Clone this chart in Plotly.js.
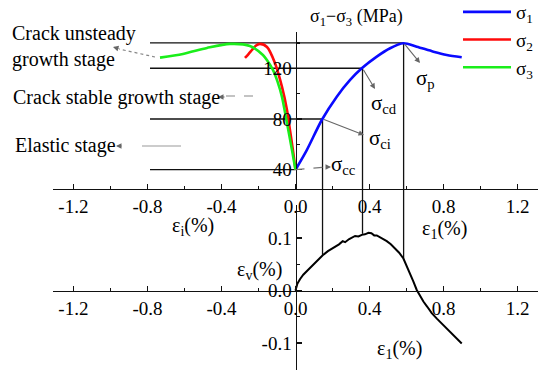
<!DOCTYPE html>
<html><head><meta charset="utf-8">
<script src="https://cdn.plot.ly/plotly-3.0.1.min.js"></script>
<style>html,body{margin:0;padding:0;background:#fff}</style>
</head><body><div id="chart" style="width:550px;height:377px"></div>
<script>
// ---- data ----
const s1Strain = [0, 0.061, 0.142, 0.223, 0.295, 0.358, 0.439, 0.511, 0.583, 0.655, 0.745, 0.817, 0.898];
const s1Stress = [40, 55.5, 79.2, 97.6, 110.8, 120, 129.2, 135.8, 139.7, 137.0, 133.1, 130.5, 128.7];
const s2Strain = [0, -0.014, -0.030, -0.046, -0.073, -0.111, -0.154, -0.192, -0.215, -0.235, -0.255, -0.273];
const s2Stress = [40, 55.5, 71.3, 87.1, 105.3, 124.2, 136.8, 139.2, 137.8, 134.4, 131.0, 128.1];
const s3Strain = [0, -0.019, -0.046, -0.073, -0.097, -0.122, -0.150, -0.176, -0.246, -0.354, -0.478, -0.608, -0.732];
const s3Stress = [40, 55.5, 76.8, 97.4, 109.5, 118.7, 125.5, 130.5, 137.6, 139.2, 136.0, 131.3, 128.4];
const evStrain = [0, 0.010, 0.025, 0.042, 0.070, 0.096, 0.120, 0.147, 0.175, 0.204, 0.235, 0.255, 0.268, 0.290, 0.310, 0.322, 0.340, 0.358, 0.375, 0.394, 0.410, 0.425, 0.439, 0.465, 0.493, 0.515, 0.538, 0.560, 0.583, 0.600, 0.619, 0.637, 0.655, 0.672, 0.691, 0.712, 0.736, 0.765, 0.799, 0.825, 0.853, 0.875, 0.898];
const evValue  = [0, 0.013, 0.022, 0.030, 0.040, 0.049, 0.058, 0.067, 0.075, 0.081, 0.088, 0.094, 0.092, 0.098, 0.102, 0.104, 0.103, 0.106, 0.107, 0.110, 0.109, 0.105, 0.105, 0.100, 0.094, 0.088, 0.080, 0.072, 0.061, 0.048, 0.033, 0.017, 0.001, -0.010, -0.021, -0.031, -0.043, -0.054, -0.066, -0.075, -0.085, -0.092, -0.101];
// characteristic stress points: cc, ci, cd, p
const stageStrain = [0, 0.146, 0.362, 0.584];
const stageStress = [40, 80, 120, 140];
const stageEv = [0, 0.068, 0.108, 0.061];
const stageLabels = ['σ<sub>cc</sub>', 'σ<sub>ci</sub>', 'σ<sub>cd</sub>', 'σ<sub>p</sub>'];
const seriesNames = ['σ<sub>1</sub>', 'σ<sub>2</sub>', 'σ<sub>3</sub>'];
const xTickVals = [-1.2, -0.8, -0.4, 0, 0.4, 0.8, 1.2];
const xTickText = ['-1.2', '-0.8', '-0.4', '0.0', '0.4', '0.8', '1.2'];
const yTickVals = [40, 80, 120];
const yTickText = ['40', '80', '120'];
const y2TickVals = [-0.1, 0, 0.1];
const y2TickText = ['-0.1', '0.0', '0.1'];

// ---- geometry ----
const L = 53, T = 30, W = 485, H = 342;
const XR = [-1.31, 1.31];
const YR = [24.8, 148.6], YD = [0.5351, 0.9942];
const Y2R = [-0.1514, 0.1629], Y2D = [0.00585, 0.4883];
const px = p => (p - L) / W;
const py = p => (T + H - p) / H;
const px2x = p => XR[0] + (p - L) / W * (XR[1] - XR[0]);
const py2y = p => YR[0] + (py(p) - YD[0]) / (YD[1] - YD[0]) * (YR[1] - YR[0]);
const yToPaper = v => YD[0] + (v - YR[0]) / (YR[1] - YR[0]) * (YD[1] - YD[0]);
const y2ToPaper = v => Y2D[0] + (v - Y2R[0]) / (Y2R[1] - Y2R[0]) * (Y2D[1] - Y2D[0]);

const FONT = "'Liberation Serif', 'Times New Roman', serif";
const minorX = []; for (let i = -6; i <= 6; i++) minorX.push(+(i * 0.2).toFixed(1));

const traces = [
  {x: s1Strain, y: s1Stress, name: seriesNames[0], mode: 'lines', line: {color: '#0a0aff', width: 2.6, shape: 'spline', smoothing: 0.8}, xaxis: 'x', yaxis: 'y'},
  {x: s2Strain, y: s2Stress, name: seriesNames[1], mode: 'lines', line: {color: '#ff0a0a', width: 2.6, shape: 'spline', smoothing: 0.8}, xaxis: 'x', yaxis: 'y'},
  {x: s3Strain, y: s3Stress, name: seriesNames[2], mode: 'lines', line: {color: '#1aee1a', width: 2.6, shape: 'spline', smoothing: 0.8}, xaxis: 'x', yaxis: 'y'},
  {x: evStrain, y: evValue, name: 'εv', mode: 'lines', line: {color: '#000', width: 2}, xaxis: 'x2', yaxis: 'y2', showlegend: false}
];

const shapes = [];
stageStrain.forEach((s, i) => {
  shapes.push({type: 'line', xref: 'x', yref: 'y', x0: px2x(150), x1: s, y0: stageStress[i], y1: stageStress[i], line: {color: '#111', width: 1.3}, layer: 'below'});
});
for (let i = 1; i < stageStrain.length; i++) {
  shapes.push({type: 'line', xref: 'x', yref: 'paper', x0: stageStrain[i], x1: stageStrain[i], y0: yToPaper(stageStress[i]), y1: y2ToPaper(stageEv[i]), line: {color: '#111', width: 1.3}, layer: 'below'});
}
shapes.push({type: 'line', xref: 'x', yref: 'y', x0: stageStrain[0], y0: stageStress[0], x1: px2x(327), y1: py2y(167), line: {color: '#777', width: 1.2, dash: 'dash'}});
shapes.push({type: 'line', xref: 'paper', yref: 'paper', x0: px(155), y0: py(57), x1: px(119), y1: py(49), line: {color: '#888', width: 1.2, dash: 'dot'}});
shapes.push({type: 'line', xref: 'paper', yref: 'paper', x0: px(226), y0: py(96), x1: px(259), y1: py(96), line: {color: '#888', width: 1.2, dash: 'dash'}});
shapes.push({type: 'line', xref: 'paper', yref: 'paper', x0: px(142), y0: py(146), x1: px(181), y1: py(146), line: {color: '#999', width: 1.2}});

const arrow = (hx, hy, ax, ay) => ({xref: 'paper', yref: 'paper', x: px(hx), y: py(hy), ax: ax, ay: ay, text: '', showarrow: true, arrowhead: 2, arrowsize: 1, arrowwidth: 1.1, arrowcolor: '#666', standoff: 0});
const dataArrow = (hx, hy, i) => ({xref: 'x', yref: 'y', axref: 'x', ayref: 'y', x: px2x(hx), y: py2y(hy), ax: stageStrain[i], ay: stageStress[i], text: '', showarrow: true, arrowhead: 2, arrowsize: 1, arrowwidth: 1.1, arrowcolor: '#666', standoff: 0});
const txt = (t, cx, cy, size, extra) => Object.assign({xref: 'paper', yref: 'paper', x: px(cx), y: py(cy), text: t, showarrow: false, xanchor: 'center', yanchor: 'middle', font: {family: FONT, size: size, color: '#000'}}, extra || {});

const annotations = [
  dataArrow(420, 63, 3),
  dataArrow(375, 89, 2),
  dataArrow(364, 135, 1),
  arrow(331, 167, -6, 0),
  arrow(113, 47, 7, 2),
  arrow(218, 97, 8, 0),
  arrow(116, 146, 7, 0),
  txt(stageLabels[3], 425, 79, 21),
  txt(stageLabels[2], 384, 104, 21),
  txt(stageLabels[1], 380, 139, 21),
  txt(stageLabels[0], 343, 165, 21),
  txt('σ<sub>1</sub>−σ<sub>3</sub> (MPa)', 356, 17, 18),
  txt('ε<sub>i</sub>(%)', 193, 226, 20),
  txt('ε<sub>1</sub>(%)', 444, 229, 20),
  txt('ε<sub>v</sub>(%)', 259, 270, 20),
  txt('ε<sub>1</sub>(%)', 399, 349, 20),
  txt('Crack unsteady<br>growth stage', 10, 47, 20, {xanchor: 'left', align: 'left'}),
  txt('Crack stable growth stage', 11, 97, 20, {xanchor: 'left'}),
  txt('Elastic stage', 13, 145, 20, {xanchor: 'left'})
];

const axBase = {showline: true, linecolor: '#111', linewidth: 1.4, showgrid: false, zeroline: false, ticks: 'inside', ticklen: 5, tickwidth: 1.3, tickcolor: '#111', tickfont: {family: FONT, size: 19, color: '#000'}, fixedrange: true};

const layout = {
  width: 550, height: 377,
  margin: {l: L, r: 550 - L - W, t: T, b: 377 - T - H, autoexpand: false},
  paper_bgcolor: '#fff', plot_bgcolor: 'rgba(0,0,0,0)',
  showlegend: true,
  legend: {x: px(458), y: py(-7), xanchor: 'left', yanchor: 'top', font: {family: FONT, size: 19, color: '#000'}, bgcolor: 'rgba(0,0,0,0)', itemwidth: 48, borderwidth: 0},
  xaxis: Object.assign({}, axBase, {domain: [0, 1], range: XR, anchor: 'y', tickmode: 'array', tickvals: xTickVals, ticktext: xTickText, minor: {tickvals: minorX, ticks: 'inside', ticklen: 3, tickcolor: '#111'}}),
  yaxis: Object.assign({}, axBase, {domain: YD, range: YR, anchor: 'free', position: 0.5, tickmode: 'array', tickvals: yTickVals, ticktext: yTickText, minor: {tickvals: [60, 100, 140], ticks: 'inside', ticklen: 3, tickcolor: '#111'}}),
  xaxis2: Object.assign({}, axBase, {domain: [0, 1], range: XR, anchor: 'free', position: y2ToPaper(0), tickmode: 'array', tickvals: xTickVals, ticktext: xTickText, minor: {tickvals: minorX, ticks: 'inside', ticklen: 3, tickcolor: '#111'}}),
  yaxis2: Object.assign({}, axBase, {domain: Y2D, range: Y2R, anchor: 'free', position: 0.5, tickmode: 'array', tickvals: y2TickVals, ticktext: y2TickText, minor: {tickvals: [-0.15, -0.05, 0.05, 0.15], ticks: 'inside', ticklen: 3, tickcolor: '#111'}}),
  shapes: shapes,
  annotations: annotations
};

Plotly.newPlot('chart', traces, layout, {displayModeBar: false, staticPlot: true});
</script></body></html>
